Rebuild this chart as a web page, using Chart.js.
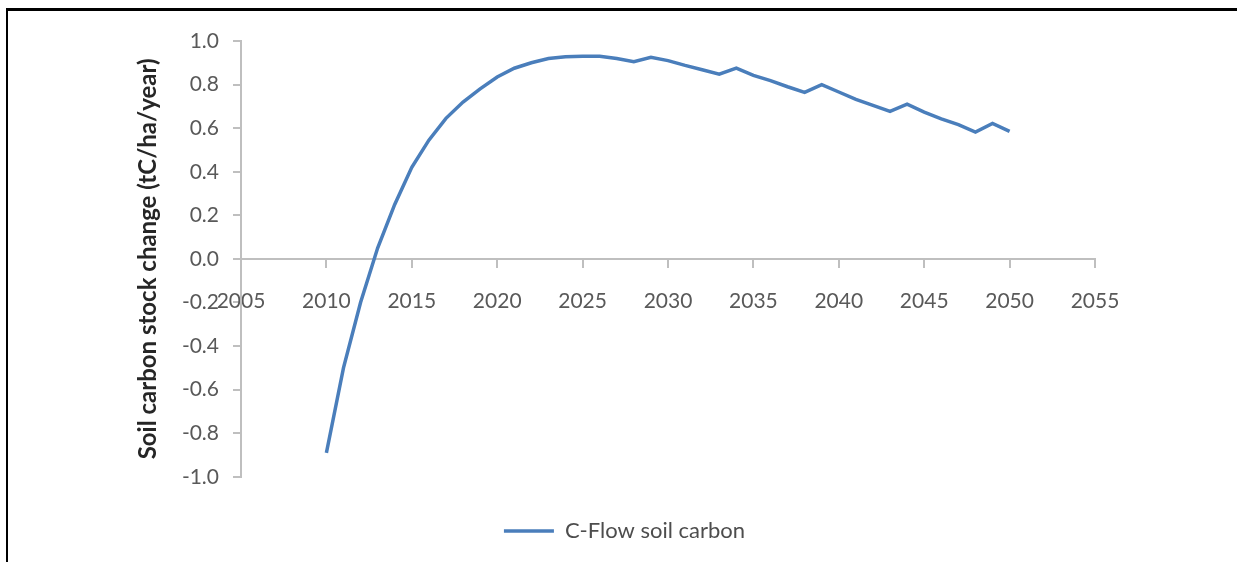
<!DOCTYPE html>
<html>
<head>
<meta charset="utf-8">
<script src="https://cdn.jsdelivr.net/npm/chart.js@4.4.1/dist/chart.umd.min.js"></script>
<style>
  html, body { margin: 0; padding: 0; background: #fff; }
  #wrap { position: relative; width: 1237px; height: 562px; }
  #frame { position: absolute; left: 6px; top: 8px; width: 1300px; height: 600px;
           border-top: 3px solid #000; border-left: 2px solid #000; pointer-events: none; }
</style>
</head>
<body>
<div id="wrap">
  <canvas id="soilChart"></canvas>
  <div id="frame"></div>
</div>
<script>
var years = [2010, 2011, 2012, 2013, 2014, 2015, 2016, 2017, 2018, 2019,
             2020, 2021, 2022, 2023, 2024, 2025, 2026, 2027, 2028, 2029,
             2030, 2031, 2032, 2033, 2034, 2035, 2036, 2037, 2038, 2039,
             2040, 2041, 2042, 2043, 2044, 2045, 2046, 2047, 2048, 2049, 2050];
var soilCarbon = [-0.89, -0.50, -0.20, 0.05, 0.25, 0.42, 0.545, 0.645, 0.72, 0.78,
                  0.835, 0.875, 0.90, 0.92, 0.928, 0.93, 0.93, 0.92, 0.905, 0.925,
                  0.91, 0.888, 0.868, 0.848, 0.876, 0.842, 0.818, 0.79, 0.764, 0.80,
                  0.766, 0.732, 0.705, 0.677, 0.71, 0.674, 0.643, 0.616, 0.582, 0.622, 0.585];
var seriesLabel = "C-Flow soil carbon";
var yTitle = "Soil carbon stock change (tC/ha/year)";

var points = years.map(function(yr, i) {
    return { x: yr, y: soilCarbon[i] };
});

var axisGray = "#bfbfbf";
var textGray = "#595959";
var fontName = "Lato";

// nudge the legend a little to the right, like the original
var legendShift = {
    id: "legendShift",
    afterLayout: function(chart) {
        if (chart.legend) {
            chart.legend.left += 15;
            chart.legend.right += 15;
        }
    }
};

new Chart(document.getElementById("soilChart"), {
    type: "line",
    data: {
        datasets: [{
            label: seriesLabel,
            data: points,
            borderColor: "#4a7ebb",
            backgroundColor: "#4a7ebb",
            borderWidth: 3.5,
            pointRadius: 0,
            tension: 0,
            fill: false
        }]
    },
    plugins: [legendShift],
    options: {
        responsive: true,
        maintainAspectRatio: false,
        animation: false,
        layout: { padding: { left: 124, right: 142, top: 41, bottom: 10 } },
        plugins: {
            tooltip: { enabled: false },
            legend: {
                position: "bottom",
                // empty title only used as a spacer above the legend
                title: { display: true, text: "", font: { size: 1 }, padding: { top: 32, bottom: 0 } },
                labels: {
                    usePointStyle: true,
                    pointStyle: "line",
                    pointStyleWidth: 50,
                    color: "#4d4d4d",
                    font: { family: fontName, size: 22 },
                    padding: 10
                }
            }
        },
        scales: {
            x: {
                type: "linear",
                position: { y: 0 },
                min: 2005,
                max: 2055,
                ticks: {
                    stepSize: 5,
                    color: textGray,
                    font: { family: fontName, size: 21 },
                    padding: 22,
                    maxRotation: 0,
                    callback: function(v) { return String(v); }
                },
                grid: {
                    drawOnChartArea: false,
                    drawTicks: true,
                    tickLength: 8,
                    color: axisGray,
                    lineWidth: 2
                },
                border: { color: axisGray, width: 2 }
            },
            y: {
                min: -1,
                max: 1,
                afterFit: function(scale) { scale.width = 117; },
                ticks: {
                    stepSize: 0.2,
                    color: textGray,
                    font: { family: fontName, size: 21 },
                    padding: 14,
                    callback: function(v) {
                        if (Math.abs(v) < 1e-9) return "0.0";
                        return v.toFixed(1);
                    }
                },
                grid: {
                    drawOnChartArea: false,
                    drawTicks: true,
                    tickLength: 8,
                    color: axisGray,
                    lineWidth: 2
                },
                border: { color: axisGray, width: 2 },
                title: {
                    display: true,
                    text: yTitle,
                    color: "#262626",
                    font: { family: fontName, size: 24, weight: "bold" },
                    padding: { top: 10, bottom: 0 }
                }
            }
        }
    }
});
</script>
</body>
</html>
